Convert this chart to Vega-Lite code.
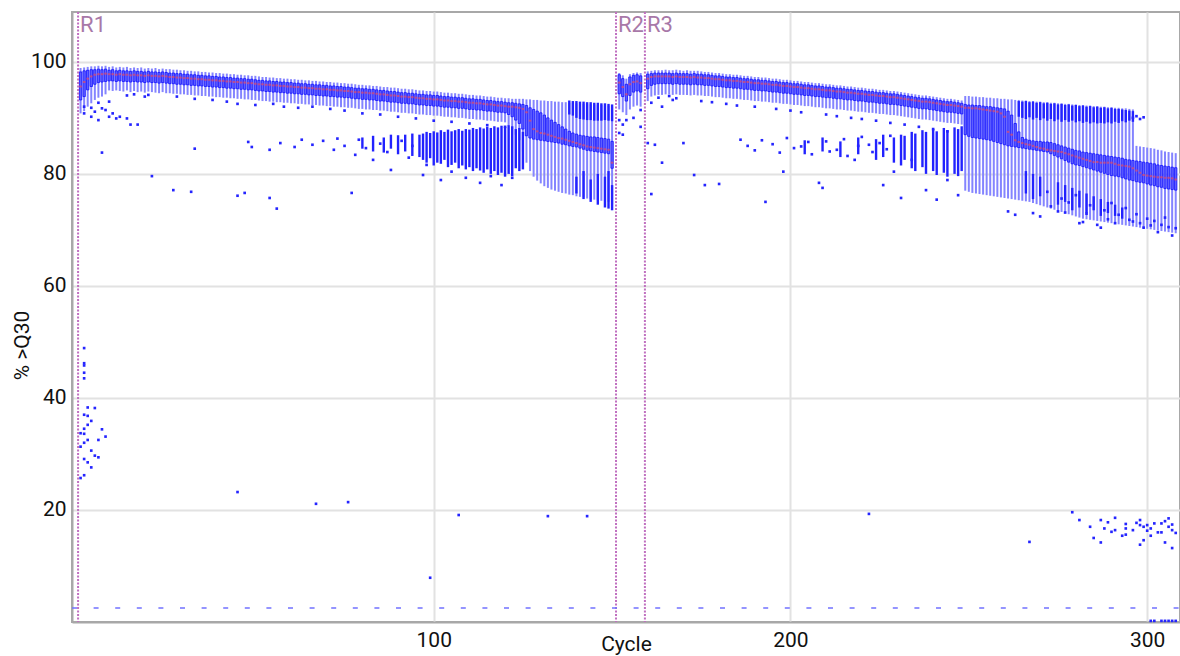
{
  "$schema": "https://vega.github.io/schema/vega-lite/v6.json",
  "width": 1108,
  "height": 610,
  "autosize": {"type": "none"},
  "padding": {"left": 72, "top": 12, "right": 0, "bottom": 34},
  "background": "white",
  "config": {
    "view": {"stroke": "#a8a8a8", "strokeWidth": 2},
    "axis": {
      "labelFont": "Roboto", "labelFontSize": 21, "labelColor": "#111111",
      "titleFont": "Roboto", "titleFontSize": 21, "titleFontWeight": "normal", "titleColor": "#111111",
      "gridColor": "#e2e2e2", "gridWidth": 2, "domainColor": "#a8a8a8", "domainWidth": 2, "ticks": false
    }
  },
  "datasets": {
    "stats": [
      {"c":1,"lo":90.8,"q1":93.2,"m":95.6,"q3":98.2,"hi":98.9},
      {"c":2,"lo":91.2,"q1":93.8,"m":96.4,"q3":98.4,"hi":99.0},
      {"c":3,"lo":92.0,"q1":95.0,"m":97.0,"q3":98.5,"hi":99.1},
      {"c":4,"lo":92.6,"q1":95.6,"m":97.4,"q3":98.6,"hi":99.2},
      {"c":5,"lo":93.2,"q1":96.0,"m":97.7,"q3":98.6,"hi":99.2},
      {"c":6,"lo":93.6,"q1":96.3,"m":97.8,"q3":98.7,"hi":99.3},
      {"c":7,"lo":93.8,"q1":96.4,"m":97.8,"q3":98.6,"hi":99.2},
      {"c":8,"lo":94.2,"q1":96.5,"m":97.9,"q3":98.7,"hi":99.3},
      {"c":9,"lo":94.9,"q1":96.6,"m":97.8,"q3":98.5,"hi":99.1},
      {"c":10,"lo":94.8,"q1":96.6,"m":97.8,"q3":98.6,"hi":99.2},
      {"c":11,"lo":94.9,"q1":96.5,"m":97.7,"q3":98.4,"hi":99.0},
      {"c":12,"lo":94.8,"q1":96.6,"m":97.8,"q3":98.5,"hi":99.1},
      {"c":13,"lo":94.7,"q1":96.5,"m":97.7,"q3":98.4,"hi":99.0},
      {"c":14,"lo":94.9,"q1":96.5,"m":97.7,"q3":98.4,"hi":99.1},
      {"c":15,"lo":94.6,"q1":96.4,"m":97.6,"q3":98.3,"hi":98.9},
      {"c":16,"lo":94.8,"q1":96.5,"m":97.7,"q3":98.4,"hi":99.0},
      {"c":17,"lo":94.6,"q1":96.4,"m":97.6,"q3":98.3,"hi":98.9},
      {"c":18,"lo":94.7,"q1":96.4,"m":97.6,"q3":98.3,"hi":99.0},
      {"c":19,"lo":94.5,"q1":96.3,"m":97.5,"q3":98.2,"hi":98.8},
      {"c":20,"lo":94.7,"q1":96.4,"m":97.6,"q3":98.3,"hi":98.9},
      {"c":21,"lo":94.6,"q1":96.3,"m":97.5,"q3":98.2,"hi":98.8},
      {"c":22,"lo":94.5,"q1":96.3,"m":97.5,"q3":98.2,"hi":98.9},
      {"c":23,"lo":94.4,"q1":96.2,"m":97.4,"q3":98.1,"hi":98.7},
      {"c":24,"lo":94.6,"q1":96.3,"m":97.5,"q3":98.2,"hi":98.8},
      {"c":25,"lo":94.4,"q1":96.2,"m":97.4,"q3":98.1,"hi":98.7},
      {"c":26,"lo":94.4,"q1":96.1,"m":97.3,"q3":98.0,"hi":98.7},
      {"c":27,"lo":94.3,"q1":96.1,"m":97.3,"q3":98.0,"hi":98.6},
      {"c":28,"lo":94.3,"q1":96.0,"m":97.2,"q3":97.9,"hi":98.6},
      {"c":29,"lo":94.2,"q1":96.0,"m":97.2,"q3":97.9,"hi":98.5},
      {"c":30,"lo":94.2,"q1":95.9,"m":97.1,"q3":97.8,"hi":98.5},
      {"c":31,"lo":94.1,"q1":95.9,"m":97.1,"q3":97.8,"hi":98.4},
      {"c":32,"lo":94.1,"q1":95.8,"m":97.0,"q3":97.7,"hi":98.4},
      {"c":33,"lo":94.0,"q1":95.8,"m":97.0,"q3":97.7,"hi":98.3},
      {"c":34,"lo":94.0,"q1":95.7,"m":96.9,"q3":97.6,"hi":98.3},
      {"c":35,"lo":93.9,"q1":95.7,"m":96.9,"q3":97.6,"hi":98.2},
      {"c":36,"lo":93.9,"q1":95.6,"m":96.8,"q3":97.5,"hi":98.2},
      {"c":37,"lo":93.8,"q1":95.6,"m":96.8,"q3":97.5,"hi":98.1},
      {"c":38,"lo":93.8,"q1":95.5,"m":96.7,"q3":97.4,"hi":98.1},
      {"c":39,"lo":93.7,"q1":95.5,"m":96.7,"q3":97.4,"hi":98.0},
      {"c":40,"lo":93.7,"q1":95.4,"m":96.6,"q3":97.3,"hi":98.0},
      {"c":41,"lo":93.6,"q1":95.4,"m":96.6,"q3":97.3,"hi":97.9},
      {"c":42,"lo":93.6,"q1":95.3,"m":96.5,"q3":97.2,"hi":97.9},
      {"c":43,"lo":93.5,"q1":95.3,"m":96.5,"q3":97.2,"hi":97.8},
      {"c":44,"lo":93.5,"q1":95.2,"m":96.4,"q3":97.1,"hi":97.8},
      {"c":45,"lo":93.4,"q1":95.2,"m":96.4,"q3":97.1,"hi":97.7},
      {"c":46,"lo":93.4,"q1":95.1,"m":96.3,"q3":97.0,"hi":97.7},
      {"c":47,"lo":93.3,"q1":95.1,"m":96.3,"q3":97.0,"hi":97.6},
      {"c":48,"lo":93.3,"q1":95.0,"m":96.2,"q3":96.9,"hi":97.6},
      {"c":49,"lo":93.2,"q1":95.0,"m":96.2,"q3":96.9,"hi":97.5},
      {"c":50,"lo":93.2,"q1":94.9,"m":96.1,"q3":96.8,"hi":97.5},
      {"c":51,"lo":93.1,"q1":94.8,"m":96.0,"q3":96.7,"hi":97.4},
      {"c":52,"lo":93.0,"q1":94.8,"m":96.0,"q3":96.7,"hi":97.3},
      {"c":53,"lo":93.0,"q1":94.7,"m":95.9,"q3":96.6,"hi":97.3},
      {"c":54,"lo":92.9,"q1":94.7,"m":95.9,"q3":96.6,"hi":97.2},
      {"c":55,"lo":92.9,"q1":94.6,"m":95.8,"q3":96.5,"hi":97.2},
      {"c":56,"lo":92.8,"q1":94.6,"m":95.8,"q3":96.5,"hi":97.1},
      {"c":57,"lo":92.8,"q1":94.5,"m":95.7,"q3":96.4,"hi":97.1},
      {"c":58,"lo":92.7,"q1":94.5,"m":95.7,"q3":96.4,"hi":97.0},
      {"c":59,"lo":92.7,"q1":94.4,"m":95.6,"q3":96.3,"hi":97.0},
      {"c":60,"lo":92.6,"q1":94.4,"m":95.6,"q3":96.3,"hi":96.9},
      {"c":61,"lo":92.6,"q1":94.3,"m":95.5,"q3":96.2,"hi":96.9},
      {"c":62,"lo":92.5,"q1":94.3,"m":95.5,"q3":96.2,"hi":96.8},
      {"c":63,"lo":92.5,"q1":94.2,"m":95.4,"q3":96.1,"hi":96.8},
      {"c":64,"lo":92.4,"q1":94.2,"m":95.4,"q3":96.1,"hi":96.7},
      {"c":65,"lo":92.4,"q1":94.1,"m":95.3,"q3":96.0,"hi":96.7},
      {"c":66,"lo":92.3,"q1":94.1,"m":95.3,"q3":96.0,"hi":96.6},
      {"c":67,"lo":92.3,"q1":94.0,"m":95.2,"q3":95.9,"hi":96.6},
      {"c":68,"lo":92.2,"q1":94.0,"m":95.2,"q3":95.9,"hi":96.5},
      {"c":69,"lo":92.2,"q1":93.9,"m":95.1,"q3":95.8,"hi":96.5},
      {"c":70,"lo":92.1,"q1":93.9,"m":95.1,"q3":95.8,"hi":96.4},
      {"c":71,"lo":92.1,"q1":93.8,"m":95.0,"q3":95.7,"hi":96.4},
      {"c":72,"lo":92.0,"q1":93.8,"m":95.0,"q3":95.7,"hi":96.3},
      {"c":73,"lo":92.0,"q1":93.7,"m":94.9,"q3":95.6,"hi":96.3},
      {"c":74,"lo":91.9,"q1":93.7,"m":94.9,"q3":95.6,"hi":96.2},
      {"c":75,"lo":91.9,"q1":93.6,"m":94.8,"q3":95.5,"hi":96.2},
      {"c":76,"lo":91.8,"q1":93.6,"m":94.8,"q3":95.5,"hi":96.1},
      {"c":77,"lo":91.8,"q1":93.5,"m":94.7,"q3":95.4,"hi":96.1},
      {"c":78,"lo":91.7,"q1":93.4,"m":94.6,"q3":95.3,"hi":96.0},
      {"c":79,"lo":91.6,"q1":93.4,"m":94.6,"q3":95.3,"hi":95.9},
      {"c":80,"lo":91.6,"q1":93.3,"m":94.5,"q3":95.2,"hi":95.9},
      {"c":81,"lo":91.5,"q1":93.3,"m":94.5,"q3":95.2,"hi":95.8},
      {"c":82,"lo":91.5,"q1":93.2,"m":94.4,"q3":95.1,"hi":95.8},
      {"c":83,"lo":91.4,"q1":93.2,"m":94.4,"q3":95.1,"hi":95.7},
      {"c":84,"lo":91.4,"q1":93.1,"m":94.3,"q3":95.0,"hi":95.7},
      {"c":85,"lo":91.3,"q1":93.0,"m":94.2,"q3":94.9,"hi":95.6},
      {"c":86,"lo":91.3,"q1":93.0,"m":94.2,"q3":94.9,"hi":95.5},
      {"c":87,"lo":91.2,"q1":92.9,"m":94.1,"q3":94.8,"hi":95.5},
      {"c":88,"lo":91.1,"q1":92.8,"m":94.0,"q3":94.7,"hi":95.4},
      {"c":89,"lo":91.1,"q1":92.8,"m":94.0,"q3":94.7,"hi":95.4},
      {"c":90,"lo":91.0,"q1":92.7,"m":93.9,"q3":94.6,"hi":95.3},
      {"c":91,"lo":90.9,"q1":92.6,"m":93.8,"q3":94.5,"hi":95.2},
      {"c":92,"lo":90.9,"q1":92.6,"m":93.8,"q3":94.5,"hi":95.2},
      {"c":93,"lo":90.8,"q1":92.5,"m":93.7,"q3":94.4,"hi":95.1},
      {"c":94,"lo":90.8,"q1":92.5,"m":93.7,"q3":94.4,"hi":95.1},
      {"c":95,"lo":90.7,"q1":92.4,"m":93.6,"q3":94.3,"hi":95.0},
      {"c":96,"lo":90.6,"q1":92.3,"m":93.5,"q3":94.2,"hi":94.9},
      {"c":97,"lo":90.6,"q1":92.3,"m":93.5,"q3":94.2,"hi":94.9},
      {"c":98,"lo":90.5,"q1":92.2,"m":93.4,"q3":94.1,"hi":94.8},
      {"c":99,"lo":90.5,"q1":92.2,"m":93.4,"q3":94.1,"hi":94.8},
      {"c":100,"lo":90.4,"q1":92.1,"m":93.3,"q3":94.0,"hi":94.7},
      {"c":101,"lo":90.4,"q1":92.1,"m":93.3,"q3":94.0,"hi":94.7},
      {"c":102,"lo":90.3,"q1":92.0,"m":93.2,"q3":93.9,"hi":94.6},
      {"c":103,"lo":90.2,"q1":91.9,"m":93.1,"q3":93.8,"hi":94.5},
      {"c":104,"lo":90.2,"q1":91.9,"m":93.1,"q3":93.8,"hi":94.5},
      {"c":105,"lo":90.1,"q1":91.8,"m":93.0,"q3":93.7,"hi":94.4},
      {"c":106,"lo":90.1,"q1":91.8,"m":93.0,"q3":93.7,"hi":94.4},
      {"c":107,"lo":90.0,"q1":91.7,"m":92.9,"q3":93.6,"hi":94.3},
      {"c":108,"lo":90.0,"q1":91.7,"m":92.9,"q3":93.6,"hi":94.3},
      {"c":109,"lo":89.9,"q1":91.6,"m":92.8,"q3":93.5,"hi":94.2},
      {"c":110,"lo":89.8,"q1":91.5,"m":92.7,"q3":93.4,"hi":94.1},
      {"c":111,"lo":89.8,"q1":91.5,"m":92.7,"q3":93.4,"hi":94.1},
      {"c":112,"lo":89.7,"q1":91.4,"m":92.6,"q3":93.3,"hi":94.0},
      {"c":113,"lo":89.7,"q1":91.4,"m":92.6,"q3":93.3,"hi":94.0},
      {"c":114,"lo":89.6,"q1":91.3,"m":92.5,"q3":93.2,"hi":93.9},
      {"c":115,"lo":89.5,"q1":91.2,"m":92.4,"q3":93.1,"hi":93.8},
      {"c":116,"lo":89.5,"q1":91.2,"m":92.4,"q3":93.1,"hi":93.8},
      {"c":117,"lo":89.4,"q1":91.1,"m":92.3,"q3":93.0,"hi":93.7},
      {"c":118,"lo":89.3,"q1":91.0,"m":92.2,"q3":92.9,"hi":93.6},
      {"c":119,"lo":89.3,"q1":91.0,"m":92.2,"q3":92.9,"hi":93.6},
      {"c":120,"lo":89.2,"q1":90.9,"m":92.1,"q3":92.8,"hi":93.5},
      {"c":121,"lo":88.6,"q1":90.6,"m":92.0,"q3":92.7,"hi":93.5},
      {"c":122,"lo":88.0,"q1":90.2,"m":92.0,"q3":92.7,"hi":93.4},
      {"c":123,"lo":87.0,"q1":89.6,"m":91.9,"q3":92.6,"hi":93.4},
      {"c":124,"lo":86.0,"q1":89.0,"m":91.8,"q3":92.5,"hi":93.4},
      {"c":125,"lo":84.0,"q1":88.0,"m":91.6,"q3":92.4,"hi":93.4},
      {"c":126,"lo":82.0,"q1":86.8,"m":91.0,"q3":92.2,"hi":93.3},
      {"c":127,"lo":80.5,"q1":86.4,"m":89.5,"q3":91.8,"hi":93.3},
      {"c":128,"lo":79.5,"q1":86.2,"m":88.0,"q3":91.5,"hi":93.2},
      {"c":129,"lo":78.8,"q1":86.1,"m":87.6,"q3":91.2,"hi":93.2},
      {"c":130,"lo":78.3,"q1":86.0,"m":87.3,"q3":90.9,"hi":93.1},
      {"c":131,"lo":77.8,"q1":85.9,"m":87.2,"q3":90.5,"hi":93.1},
      {"c":132,"lo":77.5,"q1":85.8,"m":87.0,"q3":90.0,"hi":93.0},
      {"c":133,"lo":77.2,"q1":85.7,"m":86.8,"q3":89.6,"hi":93.0},
      {"c":134,"lo":77.0,"q1":85.6,"m":86.6,"q3":89.2,"hi":92.9},
      {"c":135,"lo":76.8,"q1":85.5,"m":86.4,"q3":88.8,"hi":92.9},
      {"c":136,"lo":76.6,"q1":85.3,"m":86.3,"q3":88.4,"hi":92.8},
      {"c":137,"lo":76.5,"q1":85.2,"m":86.1,"q3":88.0,"hi":92.8},
      {"c":138,"lo":76.3,"q1":85.0,"m":85.9,"q3":87.6,"hi":92.7},
      {"c":139,"lo":76.2,"q1":84.9,"m":85.7,"q3":87.3,"hi":92.7},
      {"c":140,"lo":76.0,"q1":84.8,"m":85.5,"q3":87.1,"hi":92.6},
      {"c":141,"lo":75.9,"q1":84.6,"m":85.3,"q3":86.9,"hi":92.6},
      {"c":142,"lo":75.8,"q1":84.4,"m":85.1,"q3":86.8,"hi":92.5},
      {"c":143,"lo":75.6,"q1":84.2,"m":84.9,"q3":86.7,"hi":92.5},
      {"c":144,"lo":75.5,"q1":84.1,"m":84.8,"q3":86.6,"hi":92.4},
      {"c":145,"lo":75.4,"q1":84.0,"m":84.7,"q3":86.6,"hi":92.4},
      {"c":146,"lo":75.3,"q1":83.9,"m":84.6,"q3":86.5,"hi":92.3},
      {"c":147,"lo":75.2,"q1":83.8,"m":84.5,"q3":86.4,"hi":92.3},
      {"c":148,"lo":75.1,"q1":83.7,"m":84.4,"q3":86.3,"hi":92.2},
      {"c":149,"lo":75.0,"q1":83.6,"m":84.3,"q3":86.2,"hi":92.2},
      {"c":150,"lo":74.5,"q1":81.0,"m":82.0,"q3":85.8,"hi":92.0},
      {"c":152,"lo":91.5,"q1":94.3,"m":96.3,"q3":97.7,"hi":98.0},
      {"c":153,"lo":91.0,"q1":93.8,"m":95.5,"q3":97.0,"hi":97.6},
      {"c":154,"lo":90.5,"q1":93.0,"m":94.2,"q3":96.0,"hi":97.0},
      {"c":155,"lo":91.5,"q1":94.0,"m":96.0,"q3":97.3,"hi":97.8},
      {"c":156,"lo":92.0,"q1":94.6,"m":96.4,"q3":97.6,"hi":98.0},
      {"c":157,"lo":92.2,"q1":94.8,"m":96.5,"q3":97.7,"hi":98.1},
      {"c":158,"lo":92.0,"q1":94.6,"m":96.2,"q3":97.5,"hi":98.0},
      {"c":160,"lo":93.0,"q1":95.2,"m":97.0,"q3":97.8,"hi":98.3},
      {"c":161,"lo":93.8,"q1":95.8,"m":97.3,"q3":97.9,"hi":98.4},
      {"c":162,"lo":94.0,"q1":96.0,"m":97.4,"q3":98.0,"hi":98.5},
      {"c":163,"lo":94.1,"q1":96.1,"m":97.4,"q3":98.0,"hi":98.5},
      {"c":164,"lo":94.1,"q1":96.1,"m":97.4,"q3":98.0,"hi":98.5},
      {"c":165,"lo":94.2,"q1":96.1,"m":97.4,"q3":98.0,"hi":98.6},
      {"c":166,"lo":94.2,"q1":96.1,"m":97.4,"q3":98.0,"hi":98.5},
      {"c":167,"lo":94.1,"q1":96.0,"m":97.3,"q3":97.9,"hi":98.5},
      {"c":168,"lo":94.2,"q1":96.1,"m":97.4,"q3":98.0,"hi":98.6},
      {"c":169,"lo":94.1,"q1":96.0,"m":97.3,"q3":97.9,"hi":98.5},
      {"c":170,"lo":94.1,"q1":96.0,"m":97.3,"q3":97.9,"hi":98.4},
      {"c":171,"lo":94.1,"q1":96.0,"m":97.3,"q3":97.9,"hi":98.5},
      {"c":172,"lo":94.0,"q1":95.9,"m":97.2,"q3":97.8,"hi":98.4},
      {"c":173,"lo":94.1,"q1":96.0,"m":97.3,"q3":97.9,"hi":98.4},
      {"c":174,"lo":94.0,"q1":95.9,"m":97.2,"q3":97.8,"hi":98.4},
      {"c":175,"lo":94.0,"q1":95.9,"m":97.2,"q3":97.8,"hi":98.3},
      {"c":176,"lo":93.9,"q1":95.8,"m":97.1,"q3":97.7,"hi":98.2},
      {"c":177,"lo":93.9,"q1":95.8,"m":97.1,"q3":97.7,"hi":98.2},
      {"c":178,"lo":93.8,"q1":95.7,"m":97.0,"q3":97.6,"hi":98.1},
      {"c":179,"lo":93.7,"q1":95.6,"m":96.9,"q3":97.5,"hi":98.0},
      {"c":180,"lo":93.7,"q1":95.6,"m":96.9,"q3":97.5,"hi":98.0},
      {"c":181,"lo":93.6,"q1":95.5,"m":96.8,"q3":97.4,"hi":97.9},
      {"c":182,"lo":93.5,"q1":95.4,"m":96.7,"q3":97.3,"hi":97.8},
      {"c":183,"lo":93.5,"q1":95.4,"m":96.7,"q3":97.3,"hi":97.8},
      {"c":184,"lo":93.4,"q1":95.3,"m":96.6,"q3":97.2,"hi":97.7},
      {"c":185,"lo":93.4,"q1":95.3,"m":96.6,"q3":97.2,"hi":97.7},
      {"c":186,"lo":93.3,"q1":95.2,"m":96.5,"q3":97.1,"hi":97.6},
      {"c":187,"lo":93.2,"q1":95.1,"m":96.4,"q3":97.0,"hi":97.5},
      {"c":188,"lo":93.2,"q1":95.1,"m":96.4,"q3":97.0,"hi":97.5},
      {"c":189,"lo":93.1,"q1":95.0,"m":96.3,"q3":96.9,"hi":97.4},
      {"c":190,"lo":93.0,"q1":94.9,"m":96.2,"q3":96.8,"hi":97.3},
      {"c":191,"lo":93.0,"q1":94.9,"m":96.2,"q3":96.8,"hi":97.3},
      {"c":192,"lo":92.9,"q1":94.8,"m":96.1,"q3":96.7,"hi":97.2},
      {"c":193,"lo":92.9,"q1":94.8,"m":96.1,"q3":96.7,"hi":97.2},
      {"c":194,"lo":92.8,"q1":94.7,"m":96.0,"q3":96.6,"hi":97.1},
      {"c":195,"lo":92.7,"q1":94.6,"m":95.9,"q3":96.5,"hi":97.0},
      {"c":196,"lo":92.7,"q1":94.6,"m":95.9,"q3":96.5,"hi":97.0},
      {"c":197,"lo":92.6,"q1":94.5,"m":95.8,"q3":96.4,"hi":96.9},
      {"c":198,"lo":92.5,"q1":94.4,"m":95.7,"q3":96.3,"hi":96.8},
      {"c":199,"lo":92.5,"q1":94.4,"m":95.7,"q3":96.3,"hi":96.8},
      {"c":200,"lo":92.4,"q1":94.3,"m":95.6,"q3":96.2,"hi":96.7},
      {"c":201,"lo":92.3,"q1":94.2,"m":95.5,"q3":96.1,"hi":96.6},
      {"c":202,"lo":92.3,"q1":94.2,"m":95.5,"q3":96.1,"hi":96.6},
      {"c":203,"lo":92.2,"q1":94.1,"m":95.4,"q3":96.0,"hi":96.5},
      {"c":204,"lo":92.1,"q1":94.0,"m":95.3,"q3":95.9,"hi":96.4},
      {"c":205,"lo":92.1,"q1":94.0,"m":95.3,"q3":95.9,"hi":96.4},
      {"c":206,"lo":92.0,"q1":93.9,"m":95.2,"q3":95.8,"hi":96.3},
      {"c":207,"lo":91.9,"q1":93.8,"m":95.1,"q3":95.7,"hi":96.2},
      {"c":208,"lo":91.9,"q1":93.8,"m":95.1,"q3":95.7,"hi":96.2},
      {"c":209,"lo":91.8,"q1":93.7,"m":95.0,"q3":95.6,"hi":96.1},
      {"c":210,"lo":91.7,"q1":93.6,"m":94.9,"q3":95.5,"hi":96.0},
      {"c":211,"lo":91.7,"q1":93.6,"m":94.9,"q3":95.5,"hi":96.0},
      {"c":212,"lo":91.6,"q1":93.5,"m":94.8,"q3":95.4,"hi":95.9},
      {"c":213,"lo":91.5,"q1":93.4,"m":94.7,"q3":95.3,"hi":95.8},
      {"c":214,"lo":91.5,"q1":93.4,"m":94.7,"q3":95.3,"hi":95.8},
      {"c":215,"lo":91.4,"q1":93.3,"m":94.6,"q3":95.2,"hi":95.7},
      {"c":216,"lo":91.3,"q1":93.2,"m":94.5,"q3":95.1,"hi":95.6},
      {"c":217,"lo":91.3,"q1":93.2,"m":94.5,"q3":95.1,"hi":95.6},
      {"c":218,"lo":91.2,"q1":93.1,"m":94.4,"q3":95.0,"hi":95.5},
      {"c":219,"lo":91.1,"q1":93.0,"m":94.3,"q3":94.9,"hi":95.4},
      {"c":220,"lo":91.1,"q1":93.0,"m":94.3,"q3":94.9,"hi":95.4},
      {"c":221,"lo":91.0,"q1":92.9,"m":94.2,"q3":94.8,"hi":95.3},
      {"c":222,"lo":90.9,"q1":92.8,"m":94.1,"q3":94.7,"hi":95.2},
      {"c":223,"lo":90.9,"q1":92.8,"m":94.1,"q3":94.7,"hi":95.2},
      {"c":224,"lo":90.8,"q1":92.7,"m":94.0,"q3":94.6,"hi":95.1},
      {"c":225,"lo":90.7,"q1":92.6,"m":93.9,"q3":94.5,"hi":95.0},
      {"c":226,"lo":90.7,"q1":92.6,"m":93.9,"q3":94.5,"hi":95.0},
      {"c":227,"lo":90.6,"q1":92.5,"m":93.8,"q3":94.4,"hi":94.9},
      {"c":228,"lo":90.5,"q1":92.4,"m":93.7,"q3":94.3,"hi":94.8},
      {"c":229,"lo":90.5,"q1":92.4,"m":93.7,"q3":94.3,"hi":94.8},
      {"c":230,"lo":90.4,"q1":92.3,"m":93.6,"q3":94.2,"hi":94.7},
      {"c":231,"lo":90.3,"q1":92.2,"m":93.5,"q3":94.1,"hi":94.6},
      {"c":232,"lo":90.2,"q1":92.1,"m":93.4,"q3":94.0,"hi":94.5},
      {"c":233,"lo":90.1,"q1":92.0,"m":93.3,"q3":93.9,"hi":94.4},
      {"c":234,"lo":90.0,"q1":91.9,"m":93.2,"q3":93.8,"hi":94.3},
      {"c":235,"lo":89.9,"q1":91.8,"m":93.1,"q3":93.7,"hi":94.2},
      {"c":236,"lo":89.8,"q1":91.7,"m":93.0,"q3":93.6,"hi":94.1},
      {"c":237,"lo":89.7,"q1":91.6,"m":92.9,"q3":93.5,"hi":94.0},
      {"c":238,"lo":89.7,"q1":91.6,"m":92.9,"q3":93.5,"hi":94.0},
      {"c":239,"lo":89.6,"q1":91.5,"m":92.8,"q3":93.4,"hi":93.9},
      {"c":240,"lo":89.5,"q1":91.4,"m":92.7,"q3":93.3,"hi":93.8},
      {"c":241,"lo":89.4,"q1":91.3,"m":92.6,"q3":93.2,"hi":93.7},
      {"c":242,"lo":89.3,"q1":91.2,"m":92.5,"q3":93.1,"hi":93.6},
      {"c":243,"lo":89.2,"q1":91.1,"m":92.4,"q3":93.0,"hi":93.5},
      {"c":244,"lo":89.1,"q1":91.0,"m":92.3,"q3":92.9,"hi":93.4},
      {"c":245,"lo":89.1,"q1":91.0,"m":92.3,"q3":92.9,"hi":93.4},
      {"c":246,"lo":89.0,"q1":90.9,"m":92.2,"q3":92.8,"hi":93.3},
      {"c":247,"lo":88.9,"q1":90.8,"m":92.1,"q3":92.7,"hi":93.2},
      {"c":248,"lo":88.8,"q1":90.7,"m":92.0,"q3":92.6,"hi":93.1},
      {"c":249,"lo":77.0,"q1":87.0,"m":91.8,"q3":92.4,"hi":93.9},
      {"c":250,"lo":76.8,"q1":86.7,"m":91.8,"q3":92.3,"hi":93.9},
      {"c":251,"lo":76.6,"q1":86.5,"m":91.7,"q3":92.3,"hi":93.8},
      {"c":252,"lo":76.5,"q1":86.4,"m":91.7,"q3":92.2,"hi":93.8},
      {"c":253,"lo":76.4,"q1":86.3,"m":91.6,"q3":92.2,"hi":93.7},
      {"c":254,"lo":76.3,"q1":86.2,"m":91.5,"q3":92.1,"hi":93.7},
      {"c":255,"lo":76.2,"q1":86.1,"m":91.4,"q3":92.0,"hi":93.6},
      {"c":256,"lo":76.1,"q1":86.0,"m":91.3,"q3":92.0,"hi":93.6},
      {"c":257,"lo":76.0,"q1":85.8,"m":91.2,"q3":91.9,"hi":93.5},
      {"c":258,"lo":75.9,"q1":85.6,"m":91.1,"q3":91.8,"hi":93.5},
      {"c":259,"lo":75.8,"q1":85.4,"m":90.8,"q3":91.7,"hi":93.4},
      {"c":260,"lo":75.7,"q1":85.2,"m":90.2,"q3":91.6,"hi":93.4},
      {"c":261,"lo":75.6,"q1":85.0,"m":87.5,"q3":91.2,"hi":93.3},
      {"c":262,"lo":75.5,"q1":84.9,"m":87.0,"q3":90.5,"hi":93.3},
      {"c":263,"lo":75.4,"q1":84.8,"m":86.0,"q3":89.0,"hi":93.2},
      {"c":264,"lo":75.3,"q1":84.7,"m":85.7,"q3":87.5,"hi":93.2},
      {"c":265,"lo":75.2,"q1":84.6,"m":85.5,"q3":86.5,"hi":93.1},
      {"c":266,"lo":75.1,"q1":84.5,"m":85.3,"q3":86.2,"hi":93.1},
      {"c":267,"lo":75.0,"q1":84.4,"m":85.2,"q3":86.0,"hi":93.0},
      {"c":268,"lo":74.8,"q1":84.3,"m":85.0,"q3":85.9,"hi":93.0},
      {"c":269,"lo":74.6,"q1":84.2,"m":84.8,"q3":85.8,"hi":92.9},
      {"c":270,"lo":74.4,"q1":84.1,"m":84.6,"q3":85.8,"hi":92.9},
      {"c":271,"lo":74.2,"q1":84.0,"m":84.5,"q3":85.7,"hi":92.8},
      {"c":272,"lo":74.0,"q1":83.9,"m":84.3,"q3":85.7,"hi":92.8},
      {"c":273,"lo":73.8,"q1":83.6,"m":84.2,"q3":85.6,"hi":92.7},
      {"c":274,"lo":73.6,"q1":83.3,"m":84.1,"q3":85.4,"hi":92.7},
      {"c":275,"lo":73.4,"q1":83.0,"m":84.0,"q3":85.2,"hi":92.6},
      {"c":276,"lo":73.2,"q1":82.7,"m":83.9,"q3":85.0,"hi":92.6},
      {"c":277,"lo":73.0,"q1":82.4,"m":83.7,"q3":84.8,"hi":92.5},
      {"c":278,"lo":72.8,"q1":82.1,"m":83.5,"q3":84.6,"hi":92.5},
      {"c":279,"lo":72.6,"q1":81.8,"m":83.3,"q3":84.4,"hi":92.4},
      {"c":280,"lo":72.4,"q1":81.6,"m":83.1,"q3":84.2,"hi":92.4},
      {"c":281,"lo":72.2,"q1":81.5,"m":82.9,"q3":84.1,"hi":92.3},
      {"c":282,"lo":72.0,"q1":81.3,"m":82.7,"q3":83.9,"hi":92.3},
      {"c":283,"lo":71.9,"q1":81.1,"m":82.5,"q3":83.8,"hi":92.2},
      {"c":284,"lo":71.8,"q1":80.9,"m":82.3,"q3":83.7,"hi":92.2},
      {"c":285,"lo":71.7,"q1":80.7,"m":82.1,"q3":83.6,"hi":92.1},
      {"c":286,"lo":71.6,"q1":80.5,"m":82.1,"q3":83.5,"hi":92.1},
      {"c":287,"lo":71.5,"q1":80.3,"m":82.0,"q3":83.4,"hi":92.0},
      {"c":288,"lo":71.4,"q1":80.1,"m":82.0,"q3":83.3,"hi":92.0},
      {"c":289,"lo":71.3,"q1":79.9,"m":82.0,"q3":83.2,"hi":91.9},
      {"c":290,"lo":71.2,"q1":79.7,"m":82.0,"q3":83.1,"hi":91.9},
      {"c":291,"lo":71.1,"q1":79.6,"m":81.8,"q3":83.0,"hi":91.8},
      {"c":292,"lo":71.0,"q1":79.5,"m":81.6,"q3":82.9,"hi":91.8},
      {"c":293,"lo":70.9,"q1":79.3,"m":81.5,"q3":82.8,"hi":91.7},
      {"c":294,"lo":70.8,"q1":79.1,"m":81.4,"q3":82.6,"hi":91.7},
      {"c":295,"lo":70.7,"q1":78.9,"m":81.3,"q3":82.5,"hi":91.6},
      {"c":296,"lo":70.6,"q1":78.8,"m":81.0,"q3":82.4,"hi":91.5},
      {"c":297,"lo":70.5,"q1":78.6,"m":80.6,"q3":82.3,"hi":85.0},
      {"c":298,"lo":70.4,"q1":78.5,"m":80.2,"q3":82.2,"hi":84.9},
      {"c":299,"lo":70.3,"q1":78.4,"m":79.8,"q3":82.1,"hi":84.8},
      {"c":300,"lo":70.2,"q1":78.2,"m":79.7,"q3":82.0,"hi":84.7},
      {"c":301,"lo":70.1,"q1":78.0,"m":79.6,"q3":81.9,"hi":84.6},
      {"c":302,"lo":70.0,"q1":77.9,"m":79.5,"q3":81.8,"hi":84.5},
      {"c":303,"lo":69.9,"q1":77.7,"m":79.4,"q3":81.6,"hi":84.3},
      {"c":304,"lo":69.8,"q1":77.6,"m":79.4,"q3":81.5,"hi":84.2},
      {"c":305,"lo":69.7,"q1":77.4,"m":79.3,"q3":81.4,"hi":84.0},
      {"c":306,"lo":69.6,"q1":77.3,"m":79.3,"q3":81.3,"hi":83.9},
      {"c":307,"lo":69.5,"q1":77.2,"m":79.2,"q3":81.2,"hi":83.8},
      {"c":308,"lo":69.4,"q1":77.1,"m":79.0,"q3":81.1,"hi":83.7}
    ],
    "clusters": [
      {"c":80,"lo":84.5,"hi":86.5},{"c":83,"lo":84.0,"hi":86.8},{"c":86,"lo":83.8,"hi":86.5},{"c":88,"lo":84.5,"hi":87.0},
      {"c":90,"lo":83.5,"hi":86.9},{"c":92,"lo":84.0,"hi":87.0},{"c":94,"lo":83.2,"hi":87.2},
      {"c":96,"lo":83.0,"hi":87.0},{"c":97,"lo":82.5,"hi":87.2},{"c":98,"lo":82.0,"hi":87.5},{"c":99,"lo":82.8,"hi":87.3},
      {"c":100,"lo":81.5,"hi":87.6},{"c":101,"lo":82.0,"hi":87.4},{"c":102,"lo":81.8,"hi":87.8},{"c":103,"lo":82.5,"hi":87.5},
      {"c":104,"lo":81.2,"hi":87.9},{"c":105,"lo":81.6,"hi":87.6},{"c":106,"lo":82.0,"hi":87.8},{"c":107,"lo":81.0,"hi":88.0},
      {"c":108,"lo":81.5,"hi":87.7},{"c":109,"lo":80.8,"hi":88.0},{"c":110,"lo":81.2,"hi":87.9},{"c":111,"lo":80.5,"hi":88.2},
      {"c":112,"lo":81.0,"hi":88.0},{"c":113,"lo":80.6,"hi":88.3},{"c":114,"lo":80.2,"hi":88.1},{"c":115,"lo":80.8,"hi":88.4},
      {"c":116,"lo":80.0,"hi":88.2},{"c":117,"lo":80.5,"hi":88.5},{"c":118,"lo":79.8,"hi":88.3},{"c":119,"lo":80.2,"hi":88.6},
      {"c":120,"lo":79.5,"hi":88.4},{"c":121,"lo":80.0,"hi":88.7},{"c":122,"lo":79.6,"hi":88.5},{"c":123,"lo":81.0,"hi":88.0},
      {"c":124,"lo":80.5,"hi":88.2},{"c":125,"lo":80.8,"hi":87.5},
      {"c":138,"lo":90.6,"hi":93.1},{"c":139,"lo":90.4,"hi":93.0},{"c":140,"lo":90.0,"hi":93.0},{"c":141,"lo":89.8,"hi":92.9},
      {"c":142,"lo":89.7,"hi":92.9},{"c":143,"lo":89.6,"hi":92.8},{"c":144,"lo":89.6,"hi":92.8},{"c":145,"lo":89.5,"hi":92.7},
      {"c":146,"lo":89.5,"hi":92.7},{"c":147,"lo":89.5,"hi":92.6},{"c":148,"lo":89.6,"hi":92.6},{"c":149,"lo":89.5,"hi":92.5},
      {"c":150,"lo":89.4,"hi":92.4},
      {"c":140,"lo":76.5,"hi":79.5},{"c":142,"lo":75.5,"hi":80.5},{"c":144,"lo":75.0,"hi":79.0},{"c":146,"lo":74.5,"hi":80.0},
      {"c":148,"lo":74.0,"hi":79.5},{"c":149,"lo":73.8,"hi":80.5},{"c":150,"lo":73.5,"hi":78.0},
      {"c":204,"lo":83.5,"hi":86.0},{"c":209,"lo":84.0,"hi":86.5},{"c":214,"lo":83.0,"hi":85.8},{"c":219,"lo":83.5,"hi":86.5},
      {"c":224,"lo":82.5,"hi":86.2},{"c":226,"lo":83.0,"hi":87.0},
      {"c":229,"lo":82.0,"hi":86.5},{"c":231,"lo":81.5,"hi":87.0},{"c":232,"lo":82.5,"hi":86.8},{"c":234,"lo":81.0,"hi":87.5},
      {"c":235,"lo":80.5,"hi":87.2},{"c":237,"lo":81.2,"hi":87.8},{"c":238,"lo":80.0,"hi":87.5},{"c":240,"lo":80.5,"hi":88.0},
      {"c":241,"lo":79.8,"hi":87.6},{"c":243,"lo":80.2,"hi":88.2},{"c":244,"lo":79.5,"hi":87.8},{"c":246,"lo":80.0,"hi":88.3},
      {"c":247,"lo":79.6,"hi":88.0},{"c":248,"lo":80.5,"hi":88.5},
      {"c":264,"lo":90.2,"hi":93.0},{"c":265,"lo":90.0,"hi":92.9},{"c":266,"lo":89.8,"hi":93.0},{"c":267,"lo":90.1,"hi":92.8},
      {"c":268,"lo":89.7,"hi":92.9},{"c":269,"lo":90.0,"hi":92.7},{"c":270,"lo":89.6,"hi":92.8},{"c":271,"lo":89.9,"hi":92.6},
      {"c":272,"lo":89.5,"hi":92.7},{"c":273,"lo":89.8,"hi":92.5},{"c":274,"lo":89.4,"hi":92.6},{"c":275,"lo":89.7,"hi":92.4},
      {"c":276,"lo":89.3,"hi":92.5},{"c":277,"lo":89.6,"hi":92.3},{"c":278,"lo":89.3,"hi":92.4},{"c":279,"lo":89.5,"hi":92.2},
      {"c":280,"lo":89.2,"hi":92.3},{"c":281,"lo":89.4,"hi":92.1},{"c":282,"lo":89.1,"hi":92.2},{"c":283,"lo":89.3,"hi":92.0},
      {"c":284,"lo":89.0,"hi":92.1},{"c":285,"lo":89.2,"hi":91.9},{"c":286,"lo":89.0,"hi":92.0},{"c":287,"lo":89.1,"hi":91.8},
      {"c":288,"lo":89.0,"hi":91.9},{"c":289,"lo":89.2,"hi":91.7},{"c":290,"lo":89.0,"hi":91.8},{"c":291,"lo":89.3,"hi":91.6},
      {"c":292,"lo":89.1,"hi":91.6},{"c":293,"lo":89.4,"hi":91.5},{"c":294,"lo":89.2,"hi":91.4},{"c":295,"lo":89.5,"hi":91.3},
      {"c":296,"lo":89.3,"hi":91.2},
      {"c":266,"lo":76.5,"hi":80.5},{"c":268,"lo":75.5,"hi":80.0},{"c":270,"lo":76.0,"hi":79.5},{"c":275,"lo":74.5,"hi":78.5},
      {"c":277,"lo":75.0,"hi":78.0},{"c":279,"lo":73.5,"hi":77.5},{"c":281,"lo":74.0,"hi":77.0},{"c":283,"lo":73.0,"hi":76.5},
      {"c":285,"lo":73.5,"hi":76.0},{"c":287,"lo":72.5,"hi":75.5},{"c":289,"lo":73.0,"hi":75.0},{"c":291,"lo":72.5,"hi":74.5},
      {"c":293,"lo":72.0,"hi":74.0}
    ],
    "outliers": [
      {"c":1,"v":33.7},{"c":1,"v":31.3},{"c":1,"v":25.7},
      {"c":2,"v":48.9},{"c":2,"v":46.2},{"c":2,"v":45.8},{"c":2,"v":44.5},{"c":2,"v":43.5},{"c":2,"v":37.0},{"c":2,"v":34.5},
      {"c":2,"v":33.6},{"c":2,"v":32.0},{"c":2,"v":29.1},{"c":2,"v":26.2},
      {"c":3,"v":38.3},{"c":3,"v":36.8},{"c":3,"v":35.2},{"c":3,"v":32.5},{"c":3,"v":28.5},
      {"c":4,"v":35.9},{"c":4,"v":30.6},{"c":4,"v":27.6},{"c":5,"v":38.2},{"c":5,"v":29.7},
      {"c":6,"v":32.5},{"c":6,"v":29.4},{"c":7,"v":34.4},{"c":8,"v":33.1},
      {"c":45,"v":23.2},{"c":67,"v":21.1},{"c":76,"v":21.4},{"c":99,"v":7.9},{"c":107,"v":19.1},{"c":132,"v":18.9},{"c":143,"v":18.9},
      {"c":2,"v":90.8},{"c":2,"v":92.0},{"c":4,"v":90.2},{"c":4,"v":91.8},{"c":5,"v":91.1},{"c":6,"v":92.7},{"c":6,"v":89.6},
      {"c":7,"v":91.7},{"c":8,"v":91.4},{"c":9,"v":90.2},{"c":9,"v":92.9},{"c":10,"v":90.8},{"c":11,"v":89.9},
      {"c":12,"v":90.2},{"c":14,"v":89.9},{"c":14,"v":94.0},{"c":15,"v":88.8},{"c":16,"v":94.2},{"c":17,"v":88.8},
      {"c":19,"v":93.8},{"c":20,"v":94.1},
      {"c":7,"v":83.8},{"c":21,"v":79.6},{"c":27,"v":77.1},{"c":32,"v":76.8},{"c":33,"v":84.5},{"c":45,"v":76.1},
      {"c":47,"v":76.6},{"c":48,"v":85.7},{"c":49,"v":84.8},{"c":54,"v":75.7},{"c":56,"v":73.8},{"c":54,"v":84.3},
      {"c":57,"v":85.5},{"c":61,"v":84.8},{"c":63,"v":86.1},{"c":66,"v":85.2},{"c":69,"v":85.9},{"c":72,"v":84.3},
      {"c":73,"v":86.3},{"c":75,"v":85.0},{"c":77,"v":76.6},{"c":78,"v":83.4},{"c":79,"v":86.1},{"c":81,"v":84.6},
      {"c":83,"v":82.5},{"c":85,"v":85.4},{"c":87,"v":83.9},{"c":88,"v":80.7},{"c":91,"v":85.9},{"c":93,"v":82.9},
      {"c":94,"v":85.0},{"c":97,"v":79.8},{"c":98,"v":81.6},{"c":102,"v":78.9},{"c":105,"v":80.4},{"c":109,"v":79.3},
      {"c":113,"v":78.4},{"c":116,"v":79.6},{"c":119,"v":78.0},{"c":122,"v":79.3},
      {"c":28,"v":93.8},{"c":33,"v":93.4},{"c":38,"v":93.2},{"c":42,"v":92.9},{"c":45,"v":92.5},{"c":50,"v":92.3},
      {"c":55,"v":92.5},{"c":58,"v":92.0},{"c":62,"v":91.8},{"c":66,"v":92.0},{"c":71,"v":91.6},{"c":75,"v":91.3},
      {"c":80,"v":90.8},{"c":85,"v":90.6},{"c":90,"v":90.2},{"c":95,"v":89.9},{"c":100,"v":89.5},{"c":105,"v":89.3},
      {"c":110,"v":89.0},{"c":115,"v":88.7},{"c":120,"v":88.4},
      {"c":152,"v":89.6},{"c":153,"v":88.8},{"c":153,"v":87.0},{"c":154,"v":89.6},{"c":156,"v":90.0},{"c":158,"v":91.4},
      {"c":158,"v":88.4},{"c":152,"v":87.3},
      {"c":161,"v":92.7},{"c":163,"v":93.6},{"c":164,"v":92.0},{"c":166,"v":93.9},{"c":167,"v":93.2},{"c":168,"v":93.5},
      {"c":160,"v":85.5},{"c":162,"v":85.2},{"c":164,"v":82.0},{"c":170,"v":85.5},{"c":173,"v":79.8},{"c":161,"v":76.4},
      {"c":176,"v":78.0},{"c":180,"v":78.2},{"c":186,"v":86.1},{"c":193,"v":75.0},{"c":198,"v":80.4},{"c":201,"v":84.6},
      {"c":205,"v":85.7},{"c":208,"v":78.4},{"c":209,"v":77.5},{"c":213,"v":84.3},{"c":218,"v":82.5},{"c":222,"v":85.2},
      {"c":222,"v":19.3},{"c":226,"v":78.0},{"c":229,"v":80.4},{"c":231,"v":75.7},{"c":234,"v":82.5},{"c":238,"v":77.1},
      {"c":244,"v":78.9},{"c":247,"v":76.2},
      {"c":188,"v":85.0},{"c":190,"v":84.2},{"c":192,"v":86.0},{"c":195,"v":85.3},{"c":197,"v":83.8},{"c":199,"v":86.4},
      {"c":203,"v":84.9},{"c":206,"v":83.5},{"c":210,"v":85.8},{"c":211,"v":84.0},{"c":215,"v":86.2},{"c":216,"v":83.2},
      {"c":219,"v":85.0},{"c":220,"v":86.6},{"c":223,"v":83.9},{"c":225,"v":85.5},{"c":227,"v":84.4},{"c":228,"v":86.8},
      {"c":175,"v":93.0},{"c":182,"v":92.5},{"c":190,"v":92.0},{"c":196,"v":91.6},{"c":203,"v":91.0},{"c":210,"v":90.6},
      {"c":217,"v":90.0},{"c":224,"v":89.5},{"c":232,"v":88.8},{"c":240,"v":88.0},{"c":178,"v":92.8},{"c":185,"v":92.2},
      {"c":200,"v":91.3},{"c":213,"v":90.3},{"c":220,"v":89.8},{"c":228,"v":89.1},{"c":236,"v":88.4},{"c":244,"v":87.6},
      {"c":241,"v":75.4},{"c":261,"v":73.3},{"c":263,"v":72.7},{"c":268,"v":73.0},{"c":270,"v":72.4},{"c":275,"v":73.3},
      {"c":277,"v":73.1},{"c":281,"v":71.2},{"c":282,"v":71.4},{"c":286,"v":70.9},{"c":287,"v":70.4},{"c":291,"v":71.2},
      {"c":295,"v":71.8},{"c":299,"v":70.4},{"c":303,"v":69.6},{"c":306,"v":70.5},{"c":307,"v":69.0},
      {"c":272,"v":76.8},{"c":273,"v":74.2},{"c":276,"v":75.6},{"c":278,"v":74.9},{"c":280,"v":76.2},{"c":283,"v":72.9},
      {"c":284,"v":74.4},{"c":288,"v":73.5},{"c":289,"v":71.9},{"c":290,"v":74.8},{"c":292,"v":72.7},{"c":294,"v":73.9},
      {"c":296,"v":71.5},{"c":297,"v":72.8},{"c":298,"v":71.2},{"c":300,"v":72.0},{"c":301,"v":70.8},{"c":302,"v":71.6},
      {"c":304,"v":70.9},{"c":305,"v":72.2},{"c":308,"v":70.3},
      {"c":296,"v":90.0},{"c":297,"v":90.3},{"c":298,"v":89.8},{"c":299,"v":90.1},
      {"c":267,"v":14.3},{"c":279,"v":19.6},{"c":281,"v":18.2},{"c":284,"v":17.0},{"c":285,"v":15.0},{"c":287,"v":18.2},
      {"c":287,"v":14.2},{"c":288,"v":16.7},{"c":289,"v":17.8},{"c":290,"v":16.1},{"c":291,"v":18.6},{"c":291,"v":16.4},
      {"c":293,"v":15.4},{"c":294,"v":15.6},{"c":294,"v":17.5},{"c":294,"v":16.7},{"c":296,"v":16.4},{"c":297,"v":17.7},
      {"c":298,"v":18.2},{"c":298,"v":17.3},{"c":298,"v":13.8},{"c":299,"v":14.6},{"c":299,"v":17.0},{"c":300,"v":17.3},
      {"c":300,"v":16.3},{"c":301,"v":16.7},{"c":301,"v":15.4},{"c":302,"v":17.6},{"c":303,"v":16.0},{"c":304,"v":16.0},
      {"c":304,"v":17.6},{"c":305,"v":18.0},{"c":305,"v":14.2},{"c":306,"v":18.5},{"c":306,"v":17.0},{"c":307,"v":17.4},
      {"c":307,"v":16.4},{"c":307,"v":13.2},{"c":308,"v":15.9},
      {"c":301,"v":0.2},{"c":302,"v":0.2},{"c":304,"v":0.2},{"c":305,"v":0.2},{"c":306,"v":0.2},{"c":307,"v":0.2},{"c":308,"v":0.2}
    ],
    "reads": [
      {"c":0.3,"label":"R1"},
      {"c":151.1,"label":"R2"},
      {"c":159.2,"label":"R3"}
    ]
  },
  "encoding": {
    "x": {
      "field": "c", "type": "quantitative",
      "scale": {"domain": [0, 307.8], "nice": false, "zero": false},
      "axis": {"values": [100, 200, 300], "title": "Cycle", "labelPadding": 7, "titleBaseline": "alphabetic", "titleY": 28}
    }
  },
  "layer": [
    {
      "data": {"name": "stats"},
      "mark": {"type": "rule", "color": "#8484ff", "strokeWidth": 2},
      "encoding": {
        "y": {
          "field": "lo", "type": "quantitative",
          "scale": {"domain": [0, 108.9], "nice": false, "zero": false},
          "axis": {"values": [20, 40, 60, 80, 100], "title": "% >Q30", "labelPadding": 6, "titleX": -50, "titleY": 333, "titleBaseline": "middle"}
        },
        "y2": {"field": "hi"}
      }
    },
    {
      "data": {"name": "stats"},
      "mark": {"type": "bar", "size": 2.4, "fill": "#5e5eff", "stroke": "#1010ff", "strokeWidth": 0.8},
      "encoding": {
        "y": {"field": "q1", "type": "quantitative"},
        "y2": {"field": "q3"}
      }
    },
    {
      "data": {"name": "clusters"},
      "mark": {"type": "rule", "color": "#2222ff", "strokeWidth": 2.4},
      "encoding": {
        "y": {"field": "lo", "type": "quantitative"},
        "y2": {"field": "hi"}
      }
    },
    {
      "data": {"name": "outliers"},
      "mark": {"type": "point", "shape": "square", "filled": true, "size": 7, "color": "#2424ff", "opacity": 1},
      "encoding": {
        "y": {"field": "v", "type": "quantitative"}
      }
    },
    {
      "data": {"name": "stats"},
      "mark": {"type": "tick", "orient": "horizontal", "color": "#e24a66", "size": 2.6, "thickness": 2},
      "encoding": {
        "y": {"field": "m", "type": "quantitative"}
      }
    },
    {
      "data": {"name": "reads"},
      "mark": {"type": "rule", "color": "#c070c0", "strokeWidth": 2, "strokeDash": [2, 1.5]},
      "encoding": {}
    },
    {
      "data": {"name": "reads"},
      "mark": {"type": "text", "align": "left", "baseline": "alphabetic", "dx": 2, "font": "Roboto", "fontSize": 22, "color": "#a878a8"},
      "encoding": {
        "y": {"datum": 105.4},
        "text": {"field": "label"}
      }
    },
    {
      "data": {"values": [{}]},
      "mark": {"type": "rule", "color": "#7272ff", "strokeWidth": 1.6, "strokeDash": [5, 16.6]},
      "encoding": {
        "x": {"value": 0},
        "x2": {"value": 1108},
        "y": {"datum": 2.5}
      }
    }
  ]
}
